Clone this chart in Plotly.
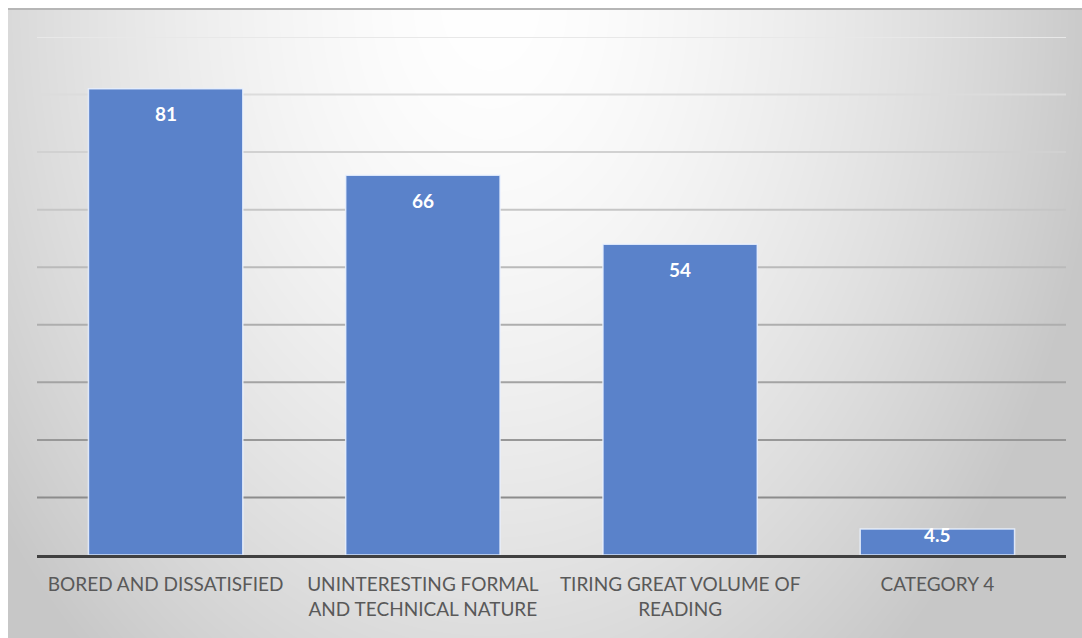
import base64
import struct
import zlib

import numpy as np
import plotly.graph_objects as go

# ---- data ----
categories = [
    "BORED AND DISSATISFIED",
    "UNINTERESTING FORMAL<br>AND TECHNICAL NATURE",
    "TIRING GREAT VOLUME OF<br>READING",
    "CATEGORY 4",
]
values = [81, 66, 54, 4.5]
grid_values = [10, 20, 30, 40, 50, 60, 70, 80, 90]

# ---- layout geometry (pixels) ----
W, H = 1082, 638
M_L, M_R, M_T, M_B = 37, 16, 37, 83
PLOT_W = W - M_L - M_R
PLOT_H = H - M_T - M_B
Y_MAX = 90


def gray_png(arr):
    """Encode a 2-D uint8 array as a grayscale PNG data URI."""
    h, w = arr.shape
    raw = b"".join(b"\x00" + arr[r].tobytes() for r in range(h))

    def chunk(tag, data):
        c = tag + data
        return struct.pack(">I", len(data)) + c + struct.pack(">I", zlib.crc32(c) & 0xFFFFFFFF)

    png = b"\x89PNG\r\n\x1a\n"
    png += chunk(b"IHDR", struct.pack(">IIBBBBB", w, h, 8, 0, 0, 0, 0))
    png += chunk(b"IDAT", zlib.compress(raw, 9))
    png += chunk(b"IEND", b"")
    return "data:image/png;base64," + base64.b64encode(png).decode()


# radial background shading, light at top centre, grey towards the edges
BG_X0, BG_Y0 = 8, 8
bw, bh = W - BG_X0, H - BG_Y0
yy, xx = np.mgrid[0:bh, 0:bw].astype(float)
xx += BG_X0
yy += BG_Y0
d = np.sqrt(((xx - 490) / 1.0) ** 2 + ((yy - 0) / 1.4) ** 2)
shade = 255 - 56 * np.clip(d / 620.0, 0, 1) ** 1.6
shade[0:2, :] = 182
bg = np.clip(shade, 0, 255).astype(np.uint8)
bg_uri = gray_png(bg)


def to_paper_x(px):
    return (px - M_L) / PLOT_W


def to_paper_y(py):
    return (H - M_B - py) / PLOT_H


fig = go.Figure()

fig.add_trace(
    go.Bar(
        x=categories,
        y=values,
        marker=dict(color="#5a82ca", line=dict(color="rgba(235,242,255,0.85)", width=1.5)),
        hoverinfo="x+y",
    )
)

# value labels inside the top of each bar
px_per_unit = PLOT_H / Y_MAX
for cat, v in zip(categories, values):
    h = v * px_per_unit
    shift = -25 if h >= 50 else -(h / 2 - 8)
    fig.add_annotation(
        x=cat, y=v, text=f"<b>{v:g}</b>", showarrow=False,
        yanchor="middle", yshift=shift,
        font=dict(family="Lato, 'Open Sans', sans-serif", size=19, color="white"),
    )

# horizontal grid, darker towards the baseline
for g in grid_values:
    t = (g - 10) / 80.0
    c = int(round(140 + t * (232 - 140)))
    fig.add_shape(
        type="line", xref="x domain", yref="y", x0=0, x1=1, y0=g, y1=g,
        line=dict(color=f"rgb({c},{c},{c})", width=2), layer="below",
    )

fig.add_layout_image(
    source=bg_uri, xref="paper", yref="paper",
    x=to_paper_x(BG_X0), y=to_paper_y(BG_Y0),
    sizex=bw / PLOT_W, sizey=bh / PLOT_H,
    xanchor="left", yanchor="top", sizing="stretch", layer="below",
)

fig.update_layout(
    width=W, height=H,
    margin=dict(l=M_L, r=M_R, t=M_T, b=M_B, pad=0),
    paper_bgcolor="white",
    plot_bgcolor="rgba(0,0,0,0)",
    bargap=0.4,
    showlegend=False,
    font=dict(family="Lato, 'Open Sans', sans-serif", size=19, color="#595959"),
    xaxis=dict(
        showline=True, linecolor="#404040", linewidth=3,
        showgrid=False, ticks="", ticklabelstandoff=10,
        tickfont=dict(size=19, color="#595959"),
    ),
    yaxis=dict(
        range=[0, Y_MAX], showgrid=False, zeroline=False,
        showticklabels=False, ticks="",
    ),
)

fig.write_html("out.html")
